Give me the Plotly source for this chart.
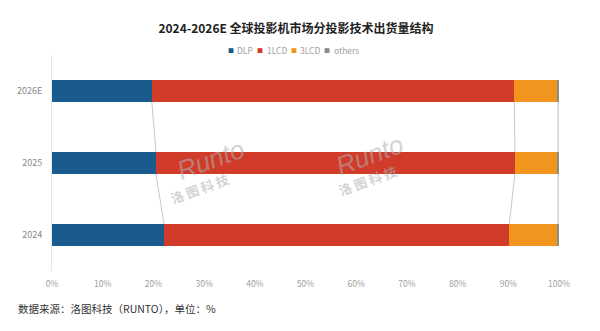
import plotly.graph_objects as go

years = ["2024", "2025", "2026E"]
dlp = [22.1, 20.5, 19.7]
lcd1 = [68.1, 70.8, 71.5]
lcd3 = [9.6, 8.5, 8.6]
others = [0.2, 0.2, 0.2]
series_names = ["DLP", "1LCD", "3LCD", "others"]
series_vals = [dlp, lcd1, lcd3, others]
colors = ["#1B5A8C", "#D13B2A", "#F2951E", "#8C8C8C"]
xticks = [0, 10, 20, 30, 40, 50, 60, 70, 80, 90, 100]

BW = 0.31
ypos = list(range(len(years)))

fig = go.Figure()

# series connector lines (derived from cumulative data)
cum = [0.0] * len(years)
bounds = []
for vals in series_vals:
    cum = [c + v for c, v in zip(cum, vals)]
    bounds.append(list(cum))
for b in bounds:
    xs, ys = [], []
    for i in range(len(years) - 1):
        xs += [b[i], b[i + 1], None]
        ys += [ypos[i] + BW / 2, ypos[i + 1] - BW / 2, None]
    fig.add_trace(go.Scatter(x=xs, y=ys, mode="lines",
                             line=dict(color="#C8C8C8", width=1),
                             showlegend=False, hoverinfo="skip"))

for name, vals, col in zip(series_names, series_vals, colors):
    fig.add_trace(go.Bar(y=ypos, x=vals, name=name, orientation="h",
                         marker=dict(color=col, line=dict(width=0)),
                         width=BW, showlegend=False))

L, R, T, B = 52, 41, 55, 60
PW, PH = 600 - L - R, 331 - T - B


def px(x):
    return (x - L) / PW


def py(y):
    return (331 - B - y) / PH


fig.update_layout(
    width=600, height=331,
    barmode="stack",
    paper_bgcolor="white", plot_bgcolor="white",
    margin=dict(l=L, r=R, t=T, b=B),
    font=dict(family="Noto Sans CJK SC, Noto Sans, sans-serif", color="#888888"),
    title=dict(text="<b>2024-2026E 全球投影机市场分投影技术出货量结构</b>",
               x=296 / 600, xanchor="center", y=1 - 28.5 / 331, yanchor="middle",
               font=dict(size=12, color="#222222")),
    xaxis=dict(range=[0, 100], tickvals=xticks,
               ticktext=[f"{t}%" for t in xticks],
               showgrid=False, zeroline=False, showline=False,
               tickfont=dict(size=8.5, color="#A0A0A0"), ticks="",
               ticklabelstandoff=6),
    yaxis=dict(range=[-0.5, 2.5], tickvals=ypos, ticktext=years,
               showgrid=False, zeroline=False, showline=True,
               linecolor="#E6E6E6", linewidth=1,
               tickfont=dict(size=9, color="#888888"), ticks="",
               ticklabelstandoff=7),
    bargap=0.69,
)

# legend as text items
sq_x = [231, 260, 294, 327]
tx_x = [235, 265, 298, 332]
for n, c, sx, tx in zip(series_names, colors, sq_x, tx_x):
    fig.add_annotation(text="■", xref="paper", yref="paper", x=px(sx), xanchor="center",
                       y=py(50), yanchor="middle", showarrow=False,
                       font=dict(size=6, color=c))
    fig.add_annotation(text=n, xref="paper", yref="paper", x=px(tx), xanchor="left",
                       y=py(50), yanchor="middle", showarrow=False,
                       font=dict(size=8.5, color="#A0A0A0"))

fig.add_annotation(text="数据来源：洛图科技（RUNTO），单位：%", xref="paper", yref="paper",
                   x=px(16), xanchor="left", y=py(308), yanchor="middle",
                   showarrow=False, font=dict(size=10.5, color="#333333"))

# watermarks
for wx, wy, hx, hy in [(170, 160, 165, 188), (410, 155, 402, 180)]:
    fig.add_annotation(text="<i>Runto</i>", xref="paper", yref="paper",
                       x=px(wx), y=py(wy), showarrow=False,
                       textangle=-20, opacity=0.55,
                       font=dict(size=26, color="#B0B0B0", family="Liberation Sans"))
    fig.add_annotation(text="<b>洛 图 科 技</b>", xref="paper", yref="paper",
                       x=px(hx), y=py(hy), showarrow=False,
                       textangle=-20, opacity=0.55,
                       font=dict(size=13, color="#B0B0B0"))

fig.write_html("out.html")
